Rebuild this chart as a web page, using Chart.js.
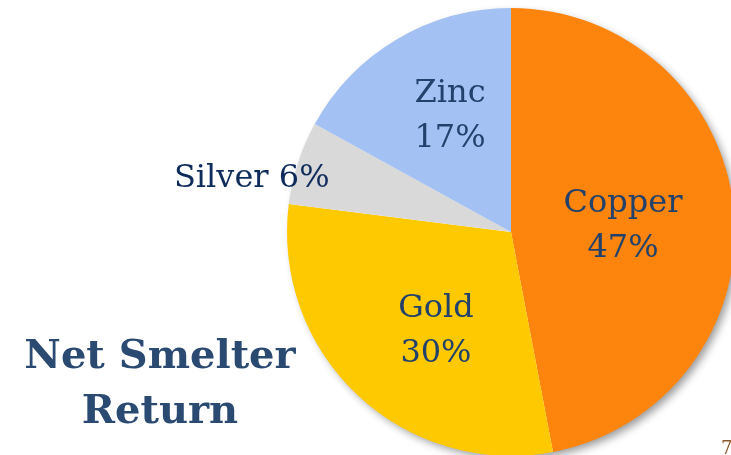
<!DOCTYPE html>
<html lang="en">
<head>
    <meta charset="UTF-8">
    <title>Net Smelter Return</title>
    <script src="https://cdn.jsdelivr.net/npm/chart.js"></script>
    <style>
        html, body{
            margin: 0;
            padding: 0;
            width: 731px;
            height: 455px;
            overflow: hidden;
            background: #ffffff;
        }
        #nsrChart{
            position: absolute;
            left: 0;
            top: 0;
        }
        #title{
            position: absolute;
            left: 0;
            width: 320px;
            top: 326px;
            text-align: center;
            font-family: "DejaVu Serif", serif;
            font-weight: bold;
            font-size: 40px;
            line-height: 55px;
            color: #2A4A72;
        }
        #pageNo{
            position: absolute;
            left: 721px;
            top: 437px;
            font-family: "DejaVu Serif", serif;
            font-size: 18px;
            color: #8A5A2B;
        }
    </style>
</head>
<body>
    <canvas id="nsrChart" width="760" height="480"></canvas>
    <div id="title">Net Smelter<br>Return</div>
    <div id="pageNo">7</div>

    <script>
        const metals = ['Copper', 'Gold', 'Silver', 'Zinc'];
        const shares = [47, 30, 6, 17];
        const sliceColors = ['#FD850D', '#FFC900', '#D9D9D9', '#A3C1F2'];

        // label anchors as a fraction of the radius, from the pie centre
        const labelSpots = [
            { fx: 0.50, fy: -0.03, inside: true },
            { fx: -0.335, fy: 0.44, inside: true },
            { fx: -0.81, fy: -0.24, inside: false },
            { fx: -0.272, fy: -0.52, inside: true }
        ];

        // one soft shadow behind the whole pie
        const shadowPlugin = {
            id: 'pieShadow',
            beforeDatasetsDraw(chart) {
                const arc = chart.getDatasetMeta(0).data[0];
                const ctx = chart.ctx;
                ctx.save();
                ctx.shadowColor = 'rgba(0,0,0,0.4)';
                ctx.shadowBlur = 9;
                ctx.shadowOffsetX = 4;
                ctx.shadowOffsetY = 4;
                ctx.fillStyle = '#ffffff';
                ctx.beginPath();
                ctx.arc(arc.x, arc.y, arc.outerRadius - 1, 0, Math.PI * 2);
                ctx.fill();
                ctx.restore();
            }
        };

        const labelPlugin = {
            id: 'sliceLabels',
            afterDraw(chart) {
                const ctx = chart.ctx;
                const arcs = chart.getDatasetMeta(0).data;
                ctx.save();
                ctx.font = '32px "DejaVu Serif", serif';
                ctx.textBaseline = 'middle';
                arcs.forEach((arc, i) => {
                    const r = arc.outerRadius;
                    const spot = labelSpots[i];
                    const x = arc.x + r * spot.fx;
                    const y = arc.y + r * spot.fy;
                    const label = metals[i];
                    const pct = shares[i] + '%';
                    if (spot.inside) {
                        ctx.fillStyle = '#22416B';
                        ctx.textAlign = 'center';
                        ctx.fillText(label, x, y - 22);
                        ctx.fillText(pct, x, y + 23);
                    } else {
                        ctx.fillStyle = '#0F2B5B';
                        ctx.textAlign = 'right';
                        ctx.fillText(label + ' ' + pct, x, y);
                    }
                });
                ctx.restore();
            }
        };

        const ctx = document.getElementById('nsrChart').getContext('2d');
        new Chart(ctx, {
            type: 'pie',
            data: {
                labels: metals,
                datasets: [{
                    data: shares,
                    backgroundColor: sliceColors,
                    borderWidth: 0
                }]
            },
            options: {
                responsive: false,
                animation: false,
                layout: { padding: { left: 287, top: 8, right: 25, bottom: 24 } },
                plugins: {
                    legend: { display: false },
                    tooltip: { enabled: false }
                }
            },
            plugins: [shadowPlugin, labelPlugin]
        });
    </script>
</body>
</html>
